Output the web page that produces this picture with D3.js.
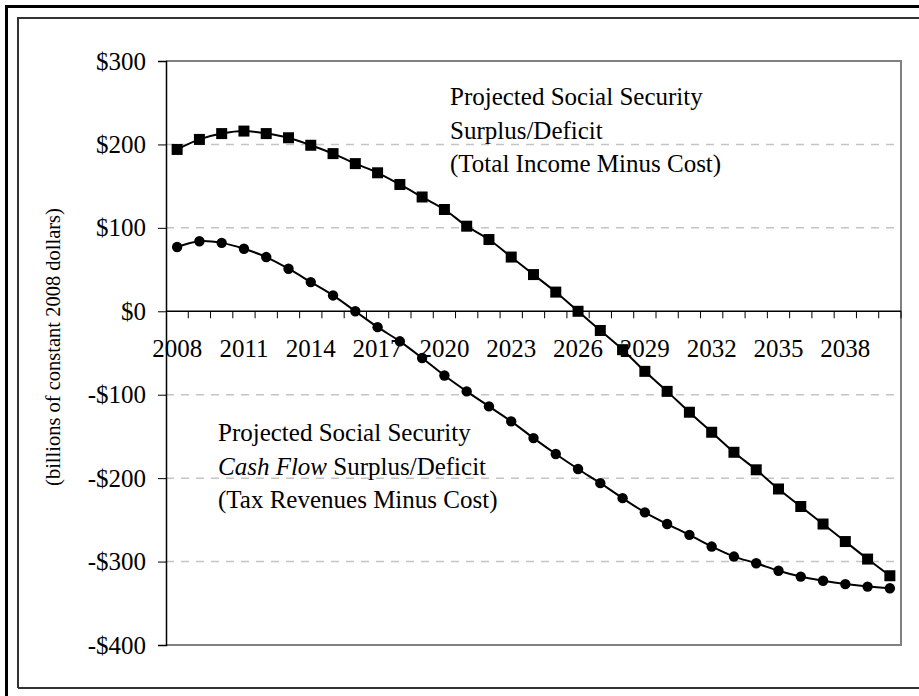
<!doctype html>
<html>
<head>
    <style>
        body { margin: 0; background: #fff; }
        text { font-family: "Liberation Serif", "Times New Roman", serif; fill: #000; }
    </style>
    <script src="https://d3js.org/d3.v7.min.js"></script>
</head>
<body>
<svg width="919" height="696"></svg>
<script>

    // categories
    var years = [2008, 2009, 2010, 2011, 2012, 2013, 2014, 2015, 2016, 2017, 2018,
                 2019, 2020, 2021, 2022, 2023, 2024, 2025, 2026, 2027, 2028, 2029,
                 2030, 2031, 2032, 2033, 2034, 2035, 2036, 2037, 2038, 2039, 2040];

    // total income minus cost (squares), billions of 2008 dollars
    var totalIncome = [194, 206, 213, 216, 213, 208, 199, 189, 177, 166, 152,
                       137, 122, 102, 86, 65, 44, 23, 0, -23, -46, -72,
                       -96, -121, -145, -169, -190, -213, -234, -255, -276, -297, -317];

    // tax revenues minus cost (circles)
    var cashFlow = [77, 84, 82, 75, 65, 51, 35, 19, 0, -19, -36,
                    -56, -77, -96, -114, -132, -152, -171, -189, -206, -224, -241,
                    -255, -268, -282, -294, -302, -311, -318, -323, -327, -330, -332];

    var yTicks = [300, 200, 100, 0, -100, -200, -300, -400];
    var xLabels = [2008, 2011, 2014, 2017, 2020, 2023, 2026, 2029, 2032, 2035, 2038];

    var svg = d3.select("svg");

    var pLeft = 166, pRight = 901, pTop = 61, pBottom = 645;

    // frames
    svg.append("path")
       .attr("d", "M6.5,696 V6.5 H919")
       .attr("fill", "none")
       .attr("stroke", "#000")
       .attr("stroke-width", 3);

    svg.append("path")
       .attr("d", "M18,688 V18 H919 M18,688 H919")
       .attr("fill", "none")
       .attr("stroke", "#333")
       .attr("stroke-width", 2);

    var xScale = d3.scaleBand().domain(years).range([pLeft, pRight]),
        yScale = d3.scaleLinear().domain([-400, 300]).range([pBottom, pTop]);

    function cx(d, i) { return xScale(years[i]) + xScale.bandwidth() / 2; }

    // gridlines
    svg.append("g")
       .selectAll("line")
       .data([200, 100, -100, -200, -300])
       .enter().append("line")
       .attr("x1", pLeft)
       .attr("x2", pRight)
       .attr("y1", function(d) { return yScale(d); })
       .attr("y2", function(d) { return yScale(d); })
       .attr("stroke", "#c4c4c4")
       .attr("stroke-width", 1.5)
       .attr("stroke-dasharray", "8,7");

    // plot border (top, right, bottom)
    svg.append("path")
       .attr("d", "M" + pLeft + "," + pTop + " H" + pRight + " V" + pBottom + " H" + pLeft)
       .attr("fill", "none")
       .attr("stroke", "#808080")
       .attr("stroke-width", 2);

    // y axis
    var yAxis = svg.append("g")
       .attr("transform", "translate(" + pLeft + ",0)")
       .call(d3.axisLeft(yScale).tickValues(yTicks).tickSizeOuter(0).tickSize(8).tickPadding(12)
           .tickFormat(function(d) { return (d < 0 ? "-$" : "$") + Math.abs(d); }));
    yAxis.select(".domain").attr("stroke", "#000").attr("stroke-width", 1.5);
    yAxis.selectAll(".tick line").attr("stroke", "#000").attr("stroke-width", 1);
    yAxis.selectAll("text")
         .attr("font-size", "25px")
         .attr("fill", "#000")
         .attr("font-family", "Liberation Serif, Times New Roman, serif");

    // x axis at zero
    var y0 = yScale(0);
    svg.append("line")
       .attr("x1", pLeft).attr("x2", pRight)
       .attr("y1", y0).attr("y2", y0)
       .attr("stroke", "#000")
       .attr("stroke-width", 1.5);

    svg.append("g")
       .selectAll("line")
       .data(years)
       .enter().append("line")
       .attr("x1", function(d) { return xScale(d) + xScale.bandwidth(); })
       .attr("x2", function(d) { return xScale(d) + xScale.bandwidth(); })
       .attr("y1", y0)
       .attr("y2", y0 + 7)
       .attr("stroke", "#000")
       .attr("stroke-width", 1);

    svg.append("g")
       .selectAll("text")
       .data(xLabels)
       .enter().append("text")
       .attr("x", function(d) { return xScale(d) + xScale.bandwidth() / 2; })
       .attr("y", 357)
       .attr("text-anchor", "middle")
       .attr("font-size", "25px")
       .text(function(d) { return d; });

    // y axis title
    svg.append("text")
       .attr("transform", "translate(60,347) rotate(-90)")
       .attr("text-anchor", "middle")
       .attr("font-size", "20.5px")
       .text("(billions of constant 2008 dollars)");

    // lines
    var line = d3.line()
       .x(cx)
       .y(function(d) { return yScale(d); })
       .curve(d3.curveCatmullRom);

    svg.append("path")
       .datum(totalIncome)
       .attr("d", line)
       .attr("fill", "none")
       .attr("stroke", "#000")
       .attr("stroke-width", 2);

    svg.append("path")
       .datum(cashFlow)
       .attr("d", line)
       .attr("fill", "none")
       .attr("stroke", "#000")
       .attr("stroke-width", 2);

    svg.append("g")
       .selectAll("rect")
       .data(totalIncome)
       .enter().append("rect")
       .attr("x", function(d, i) { return cx(d, i) - 5.5; })
       .attr("y", function(d) { return yScale(d) - 5.5; })
       .attr("width", 11)
       .attr("height", 11)
       .attr("fill", "#000");

    svg.append("g")
       .selectAll("circle")
       .data(cashFlow)
       .enter().append("circle")
       .attr("cx", cx)
       .attr("cy", function(d) { return yScale(d); })
       .attr("r", 5.2)
       .attr("fill", "#000");

    // annotations
    var note1 = svg.append("text").attr("font-size", "25px");
    note1.append("tspan").attr("x", 450).attr("y", 105).text("Projected Social Security");
    note1.append("tspan").attr("x", 450).attr("y", 138.5).text("Surplus/Deficit");
    note1.append("tspan").attr("x", 450).attr("y", 172).text("(Total Income Minus Cost)");

    var note2 = svg.append("text").attr("font-size", "25px");
    note2.append("tspan").attr("x", 218).attr("y", 441).text("Projected Social Security");
    var l2 = note2.append("tspan").attr("x", 218).attr("y", 474.5);
    l2.append("tspan").attr("font-style", "italic").text("Cash Flow");
    l2.append("tspan").text(" Surplus/Deficit");
    note2.append("tspan").attr("x", 218).attr("y", 508).text("(Tax Revenues Minus Cost)");

</script>
</body>
</html>
